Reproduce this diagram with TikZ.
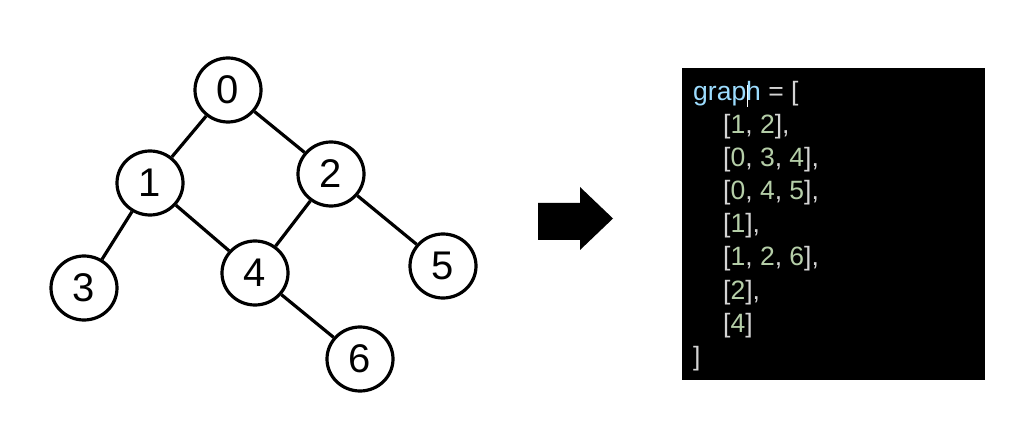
\documentclass[tikz,border=0pt]{standalone}
\usepackage{fontspec}
\setmainfont{Liberation Sans}
\usetikzlibrary{shapes.geometric}
\definecolor{idblue}{HTML}{9CDCFE}
\definecolor{plaintext}{HTML}{D4D4D4}
\definecolor{numgreen}{HTML}{B5CEA8}
\newcommand\numc[1]{\textcolor{numgreen}{#1}}
\newcommand\brc[1]{\textcolor{plaintext}{#1}}
\newcommand\caret{\rlap{\kern0.5pt\textcolor{white}{\rule[-6pt]{1pt}{22pt}}}}
\begin{document}
\begin{tikzpicture}[x=1pt,y=-1pt,
  vertex/.style={draw=black,line width=3.2pt,fill=white,ellipse,
    minimum width=66pt,minimum height=64pt,inner sep=0pt,
    font=\fontsize{40}{42}\selectfont},
  edge/.style={line width=3.2pt},
  codeline/.style={anchor=base west,inner sep=0pt,text=plaintext,
    font=\fontsize{26.5}{30}\selectfont}]
\useasboundingbox (0,0) rectangle (1009,438);

% graph
\node[vertex] (n0) at (228,90) {0};
\node[vertex] (n1) at (150,183) {1};
\node[vertex] (n2) at (331,174) {2};
\node[vertex] (n3) at (84,288) {3};
\node[vertex] (n4) at (255,273) {4};
\node[vertex] (n5) at (443,266) {5};
\node[vertex] (n6) at (360,359) {6};
\draw[edge] (n0) -- (n1);
\draw[edge] (n0) -- (n2);
\draw[edge] (n1) -- (n3);
\draw[edge] (n1) -- (n4);
\draw[edge] (n2) -- (n4);
\draw[edge] (n2) -- (n5);
\draw[edge] (n4) -- (n6);

% block arrow
\fill[black] (538,203) -- (580,203) -- (580,187) -- (613,218.5)
  -- (580,250) -- (580,240) -- (538,240) -- cycle;

% adjacency list panel
\fill[black] (682,68) rectangle (985,380);
\node[codeline] (l0) at (693,101) {\textcolor{idblue}{grap\caret h} = [};
\node[codeline] (l1) at (723,134) {\brc{[}\numc{1}, \numc{2}\brc{]},};
\node[codeline] (l2) at (723,167) {\brc{[}\numc{0}, \numc{3}, \numc{4}\brc{]},};
\node[codeline] (l3) at (723,200) {\brc{[}\numc{0}, \numc{4}, \numc{5}\brc{]},};
\node[codeline] (l4) at (723,233) {\brc{[}\numc{1}\brc{]},};
\node[codeline] (l5) at (723,266) {\brc{[}\numc{1}, \numc{2}, \numc{6}\brc{]},};
\node[codeline] (l6) at (723,299) {\brc{[}\numc{2}\brc{]},};
\node[codeline] (l7) at (723,332) {\brc{[}\numc{4}\brc{]}};
\node[codeline] (l8) at (693,365) {]};
\end{tikzpicture}
\end{document}
